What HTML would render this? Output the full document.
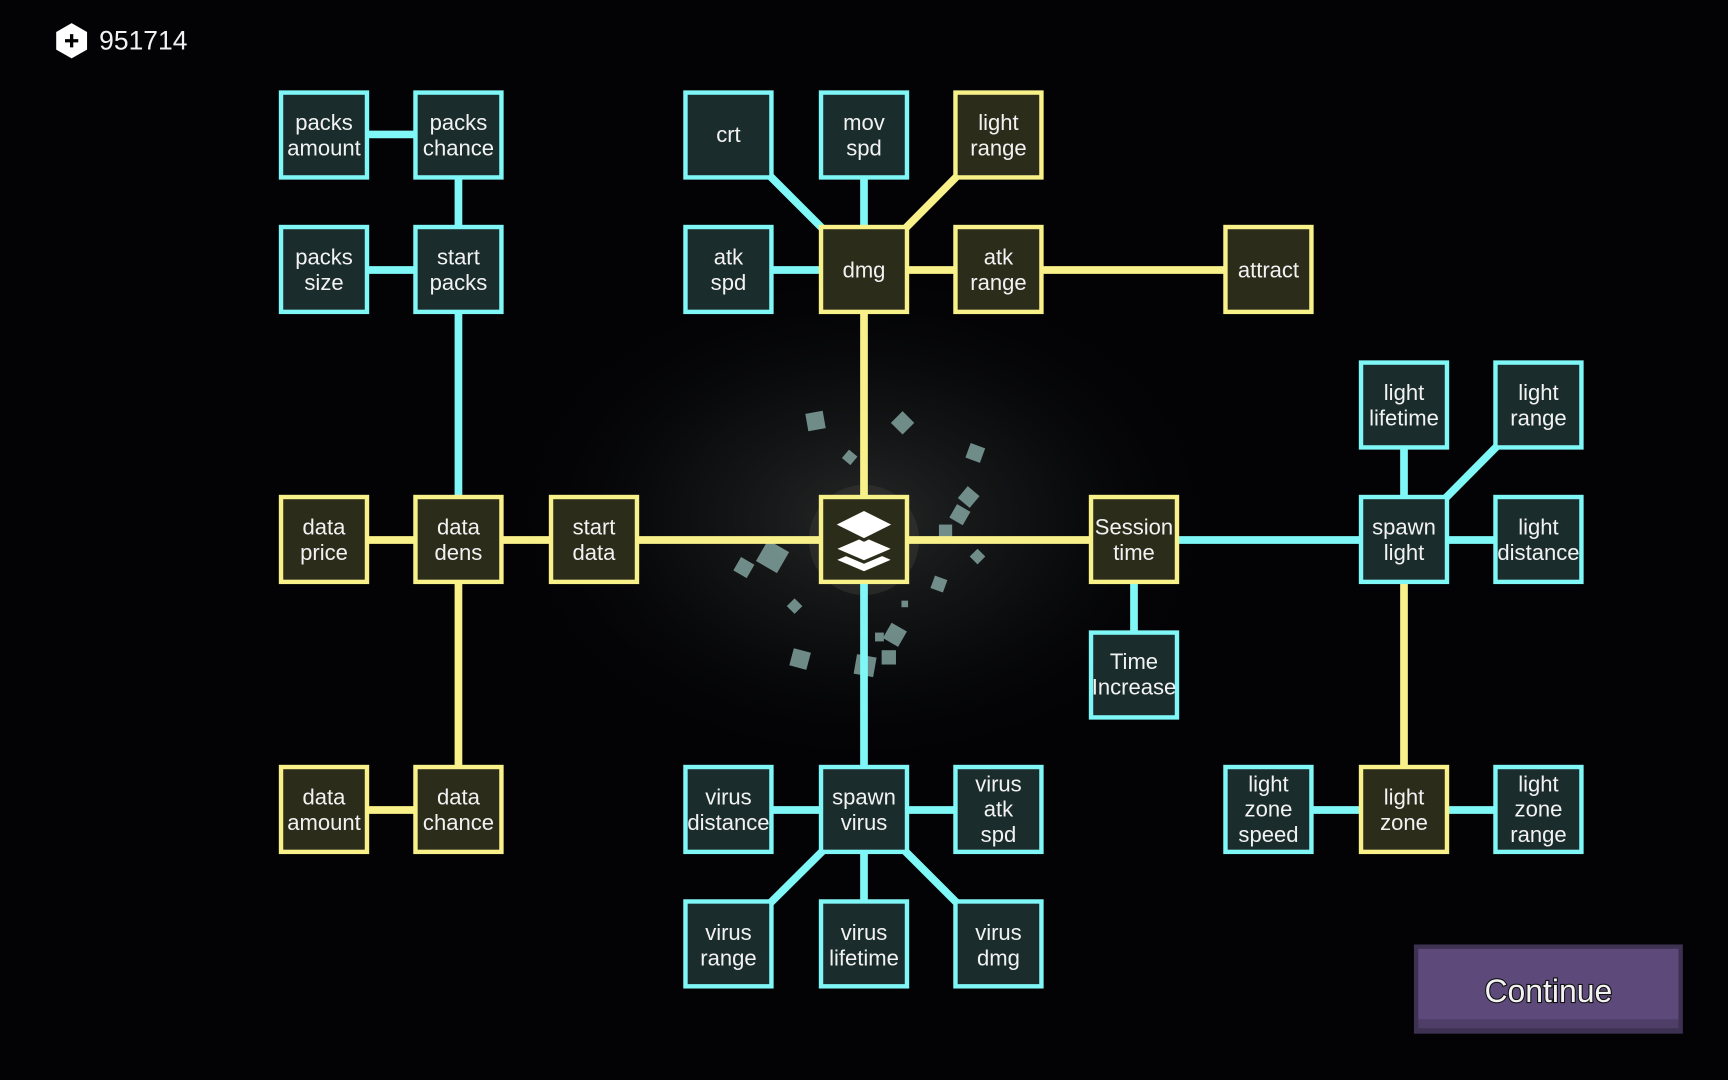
<!DOCTYPE html>
<html><head><meta charset="utf-8"><style>
html,body{margin:0;padding:0;background:#030305;width:1728px;height:1080px;overflow:hidden}
svg{display:block}
text{font-family:"Liberation Sans",sans-serif;fill:#f2f2f2;text-anchor:middle}
</style></head><body>
<svg width="1728" height="1080" viewBox="0 0 1568 980" xmlns="http://www.w3.org/2000/svg">
<defs>
<radialGradient id="g" cx="50%" cy="50%" r="50%">
<stop offset="0" stop-color="#2a2c2c" stop-opacity="0.9"/>
<stop offset="0.5" stop-color="#151717" stop-opacity="0.6"/>
<stop offset="1" stop-color="#030305" stop-opacity="0"/>
</radialGradient>
</defs>
<rect width="1568" height="980" fill="#030305"/>
<ellipse cx="784" cy="470" rx="330" ry="230" fill="url(#g)"/>
<circle cx="784" cy="490" r="50" fill="#3a3a36" opacity="0.5"/>
<!-- particles -->
<g fill="#8fb5b0" opacity="0.75">
<rect x="732" y="374" width="16" height="16" transform="rotate(-10 740 382)"/>
<rect x="812" y="376" width="15" height="15" transform="rotate(45 819 383)"/>
<rect x="878" y="404" width="14" height="14" transform="rotate(20 885 411)"/>
<rect x="766" y="410" width="10" height="10" transform="rotate(40 771 415)"/>
<rect x="872" y="444" width="14" height="14" transform="rotate(40 879 451)"/>
<rect x="864" y="460" width="14" height="14" transform="rotate(30 871 467)"/>
<rect x="852" y="476" width="12" height="12"/>
<rect x="882" y="500" width="10" height="10" transform="rotate(45 887 505)"/>
<rect x="846" y="524" width="12" height="12" transform="rotate(20 852 530)"/>
<rect x="690" y="494" width="22" height="22" transform="rotate(30 701 505)"/>
<rect x="668" y="508" width="14" height="14" transform="rotate(30 675 515)"/>
<rect x="716" y="545" width="10" height="10" transform="rotate(45 721 550)"/>
<rect x="804" y="568" width="16" height="16" transform="rotate(30 812 576)"/>
<rect x="800" y="590" width="13" height="13"/>
<rect x="776" y="595" width="18" height="18" transform="rotate(10 785 604)"/>
<rect x="718" y="590" width="16" height="16" transform="rotate(15 726 598)"/>
<rect x="794" y="574" width="8" height="8"/>
<rect x="818" y="545" width="6" height="6"/>
</g>
<!-- edges -->
<g stroke-width="7" fill="none" stroke-linecap="butt">
<g stroke="#7ff7f7">
<line x1="294" y1="122" x2="416" y2="122"/>
<line x1="416" y1="122" x2="416" y2="245"/>
<line x1="294" y1="245" x2="416" y2="245"/>
<line x1="416" y1="245" x2="416" y2="490"/>
<line x1="661" y1="122" x2="784" y2="245"/>
<line x1="784" y1="122" x2="784" y2="245"/>
<line x1="661" y1="245" x2="784" y2="245"/>
<line x1="784" y1="490" x2="784" y2="735"/>
<line x1="1029" y1="490" x2="1274" y2="490"/>
<line x1="1274" y1="367" x2="1274" y2="490"/>
<line x1="1396" y1="367" x2="1274" y2="490"/>
<line x1="1274" y1="490" x2="1396" y2="490"/>
<line x1="1029" y1="490" x2="1029" y2="612"/>
<line x1="661" y1="735" x2="906" y2="735"/>
<line x1="784" y1="735" x2="661" y2="857"/>
<line x1="784" y1="735" x2="784" y2="857"/>
<line x1="784" y1="735" x2="906" y2="857"/>
<line x1="1151" y1="735" x2="1396" y2="735"/>
</g>
<g stroke="#f8f18a">
<line x1="906" y1="122" x2="784" y2="245"/>
<line x1="784" y1="245" x2="1151" y2="245"/>
<line x1="784" y1="245" x2="784" y2="490"/>
<line x1="294" y1="490" x2="1029" y2="490"/>
<line x1="416" y1="490" x2="416" y2="735"/>
<line x1="294" y1="735" x2="416" y2="735"/>
<line x1="1274" y1="490" x2="1274" y2="735"/>
</g>
</g>
<!-- nodes -->
<g font-size="20">
<!-- cyan -->
<g stroke="#7ff7f7" stroke-width="4">
<g fill="#1b2c2c">
<rect x="255" y="84" width="78" height="77"/><rect x="377" y="84" width="78" height="77"/>
<rect x="255" y="206" width="78" height="77"/><rect x="377" y="206" width="78" height="77"/>
<rect x="622" y="84" width="78" height="77"/><rect x="745" y="84" width="78" height="77"/>
<rect x="622" y="206" width="78" height="77"/>
<rect x="1235" y="329" width="78" height="77"/><rect x="1357" y="329" width="78" height="77"/>
<rect x="1235" y="451" width="78" height="77"/><rect x="1357" y="451" width="78" height="77"/>
<rect x="990" y="574" width="78" height="77"/>
<rect x="622" y="696" width="78" height="77"/><rect x="745" y="696" width="78" height="77"/><rect x="867" y="696" width="78" height="77"/>
<rect x="622" y="818" width="78" height="77"/><rect x="745" y="818" width="78" height="77"/><rect x="867" y="818" width="78" height="77"/>
<rect x="1112" y="696" width="78" height="77"/><rect x="1357" y="696" width="78" height="77"/>
</g>
</g>
<g stroke="#f8f18a" stroke-width="4" fill="#2c2c1b">
<rect x="867" y="84" width="78" height="77"/>
<rect x="745" y="206" width="78" height="77"/><rect x="867" y="206" width="78" height="77"/>
<rect x="1112" y="206" width="78" height="77"/>
<rect x="255" y="451" width="78" height="77"/><rect x="377" y="451" width="78" height="77"/><rect x="500" y="451" width="78" height="77"/>
<rect x="745" y="451" width="78" height="77"/>
<rect x="990" y="451" width="78" height="77"/>
<rect x="255" y="696" width="78" height="77"/><rect x="377" y="696" width="78" height="77"/>
<rect x="1235" y="696" width="78" height="77"/>
</g>
<!-- center icon -->
<g fill="#ffffff" stroke="#2c2c1b" stroke-width="3" stroke-linejoin="round">
<path d="M784 502 L812 490 L784 478 L756 490 Z" transform="translate(0,18)"/>
<path d="M784 502 L812 490 L784 478 L756 490 Z" transform="translate(0,8)"/>
<path d="M784 490 L812 476 L784 462 L756 476 Z"/>
</g>
<!-- labels -->
<text x="294" y="118">packs</text><text x="294" y="141">amount</text>
<text x="416" y="118">packs</text><text x="416" y="141">chance</text>
<text x="294" y="240">packs</text><text x="294" y="263">size</text>
<text x="416" y="240">start</text><text x="416" y="263">packs</text>
<text x="661" y="129">crt</text>
<text x="784" y="118">mov</text><text x="784" y="141">spd</text>
<text x="906" y="118">light</text><text x="906" y="141">range</text>
<text x="661" y="240">atk</text><text x="661" y="263">spd</text>
<text x="784" y="252">dmg</text>
<text x="906" y="240">atk</text><text x="906" y="263">range</text>
<text x="1151" y="252">attract</text>
<text x="1274" y="363">light</text><text x="1274" y="386">lifetime</text>
<text x="1396" y="363">light</text><text x="1396" y="386">range</text>
<text x="294" y="485">data</text><text x="294" y="508">price</text>
<text x="416" y="485">data</text><text x="416" y="508">dens</text>
<text x="539" y="485">start</text><text x="539" y="508">data</text>
<text x="1029" y="485">Session</text><text x="1029" y="508">time</text>
<text x="1274" y="485">spawn</text><text x="1274" y="508">light</text>
<text x="1396" y="485">light</text><text x="1396" y="508">distance</text>
<text x="1029" y="607">Time</text><text x="1029" y="630">Increase</text>
<text x="294" y="730">data</text><text x="294" y="753">amount</text>
<text x="416" y="730">data</text><text x="416" y="753">chance</text>
<text x="661" y="730">virus</text><text x="661" y="753">distance</text>
<text x="784" y="730">spawn</text><text x="784" y="753">virus</text>
<text x="906" y="718">virus</text><text x="906" y="741">atk</text><text x="906" y="764">spd</text>
<text x="1151" y="718">light</text><text x="1151" y="741">zone</text><text x="1151" y="764">speed</text>
<text x="1274" y="730">light</text><text x="1274" y="753">zone</text>
<text x="1396" y="718">light</text><text x="1396" y="741">zone</text><text x="1396" y="764">range</text>
<text x="661" y="853">virus</text><text x="661" y="876">range</text>
<text x="784" y="853">virus</text><text x="784" y="876">lifetime</text>
<text x="906" y="853">virus</text><text x="906" y="876">dmg</text>
</g>
<!-- top left -->
<path d="M65 21 L79 29 L79 45 L65 53 L51 45 L51 29 Z" fill="#ffffff"/>
<path d="M65 31 V43 M59 37 H71" stroke="#000" stroke-width="3"/>
<text x="90" y="45" font-size="24" style="text-anchor:start">951714</text>
<!-- continue -->
<rect x="1283" y="857" width="244" height="81" fill="#3e3252"/>
<rect x="1287" y="861" width="236" height="64" fill="#5d4a7a"/>
<rect x="1287" y="925" width="236" height="8" fill="#4f3f68"/>
<text x="1405" y="909" font-size="29" stroke="#111" stroke-width="2" paint-order="stroke">Continue</text>
</svg>
</body></html>
